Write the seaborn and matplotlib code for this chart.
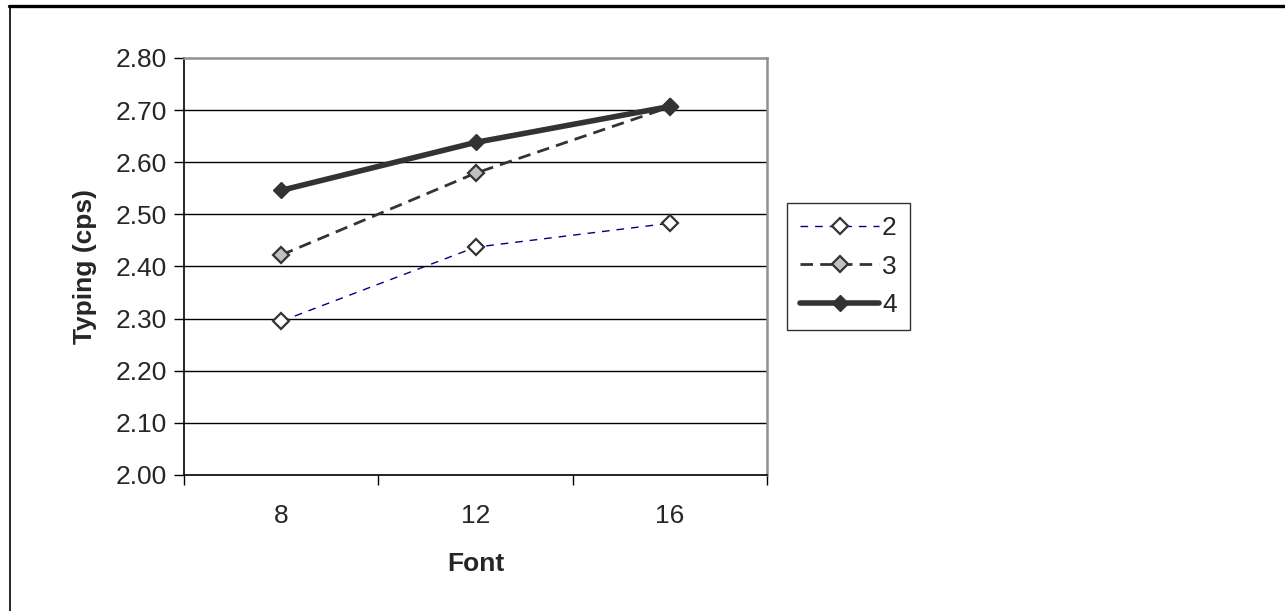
import matplotlib
matplotlib.use("Agg")
import matplotlib.pyplot as plt
from matplotlib.lines import Line2D
import pandas as pd
import seaborn as sns

# data
fonts = ["8", "12", "16"]
series_names = ["2", "3", "4"]
typing_2 = [2.295, 2.437, 2.483]
typing_3 = [2.422, 2.579, 2.706]
typing_4 = [2.546, 2.638, 2.707]
y_ticks = [2.00, 2.10, 2.20, 2.30, 2.40, 2.50, 2.60, 2.70, 2.80]

sns.set_theme(style="white")
plt.rcParams["font.family"] = ["Liberation Sans", "DejaVu Sans"]

df = pd.DataFrame({
    "font": fonts * 3,
    "pos": list(range(len(fonts))) * 3,
    "typing": typing_2 + typing_3 + typing_4,
    "series": [s for s in series_names for _ in fonts],
})

styles = {
    "2": dict(color="#000080", lw=1.0, dashes=(5.5, 5), mfc="white", mec="#333333", ms=8, mew=1.6),
    "3": dict(color="#333333", lw=2.0, dashes=(4.5, 2.6), mfc="#c0c0c0", mec="#333333", ms=8, mew=1.6),
    "4": dict(color="#333333", lw=4.0, dashes=None, mfc="#333333", mec="#333333", ms=8, mew=1.0),
}

fig = plt.figure(figsize=(12.85, 6.11), dpi=100)
ax = fig.add_axes([0.1432, 0.2226, 0.4537, 0.6825])

handles = []
for name in series_names:
    st = styles[name]
    sub = df[df["series"] == name]
    sns.lineplot(data=sub, x="pos", y="typing", ax=ax, color=st["color"], lw=st["lw"],
                 marker="D", markersize=st["ms"], markerfacecolor=st["mfc"],
                 markeredgecolor=st["mec"], markeredgewidth=st["mew"], legend=False,
                 zorder=3)
    line = ax.get_lines()[-1]
    if st["dashes"] is not None:
        line.set_dashes(st["dashes"])
    h = Line2D([], [], color=st["color"], lw=st["lw"], marker="D", markersize=st["ms"],
               markerfacecolor=st["mfc"], markeredgecolor=st["mec"], markeredgewidth=st["mew"])
    if st["dashes"] is not None:
        h.set_dashes(st["dashes"])
    handles.append(h)

ax.set_xlim(-0.5, len(fonts) - 0.5)
ax.set_ylim(2.0, 2.8)
ax.set_yticks(y_ticks)
ax.set_yticklabels([f"{v:.2f}" for v in y_ticks])
ax.set_xticks(range(len(fonts)))
ax.set_xticklabels(fonts)
ax.set_xticks([i - 0.5 for i in range(len(fonts) + 1)], minor=True)
ax.tick_params(axis="x", which="major", length=0, pad=21, labelsize=19)
ax.tick_params(axis="x", which="minor", length=7, width=1, direction="out", color="black", bottom=True)
ax.tick_params(axis="y", length=7, width=1, direction="out", color="black", left=True, pad=5, labelsize=19)

for v in y_ticks[1:-1]:
    ax.axhline(v, color="black", lw=1.0, zorder=1)

for side in ["left", "bottom"]:
    ax.spines[side].set_color("black")
    ax.spines[side].set_linewidth(1.2)
for side in ["top", "right"]:
    ax.spines[side].set_color("#909090")
    ax.spines[side].set_linewidth(1.8)

ax.set_xlabel("Font", fontsize=19, fontweight="bold", labelpad=17)
ax.set_ylabel("Typing (cps)", fontsize=19, fontweight="bold", labelpad=14)

leg = fig.legend(handles, series_names, loc="upper left", bbox_to_anchor=(787 / 1285, 1 - 203 / 611),
                 frameon=True, fancybox=False, edgecolor="black", fontsize=19,
                 handlelength=3.0, handletextpad=0.1, labelspacing=0.55,
                 borderpad=0.5, borderaxespad=0)
leg.get_frame().set_linewidth(1.0)

# outer frame of the original figure
fig.add_artist(Line2D([9 / 1285, 1.0], [1 - 6 / 611, 1 - 6 / 611], color="black", lw=2.4,
                      transform=fig.transFigure))
fig.add_artist(Line2D([9.5 / 1285, 9.5 / 1285], [0, 1 - 6 / 611], color="black", lw=1.2,
                      transform=fig.transFigure))

fig.savefig("out.png", dpi=100)
